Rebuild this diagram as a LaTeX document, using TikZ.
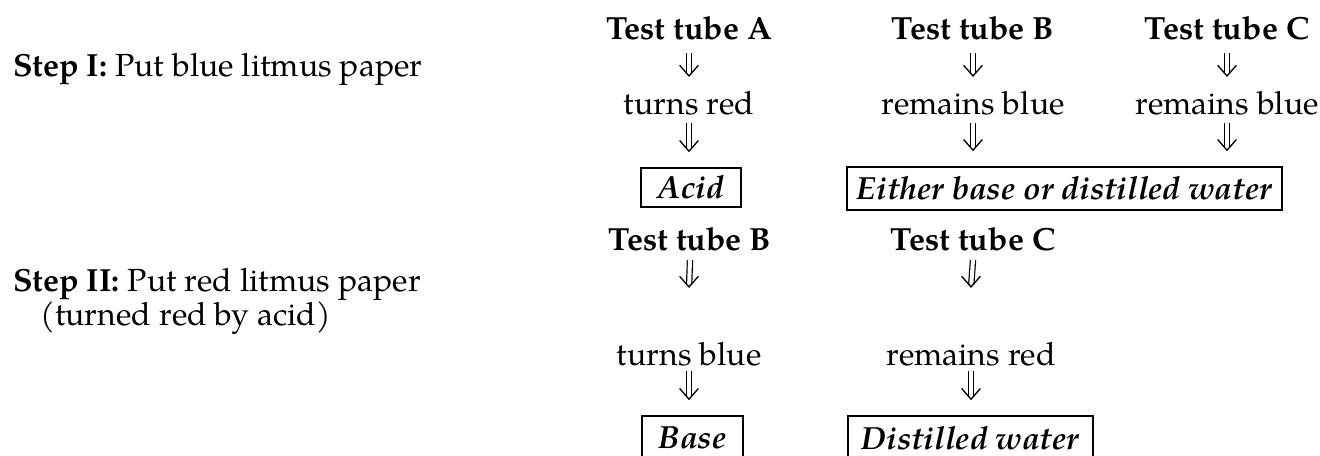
\documentclass[tikz,border=0pt]{standalone}
\usepackage{fontspec}
\setmainfont{TeX Gyre Pagella}
\usetikzlibrary{arrows.meta,calc}
\newcommand\darr[2]{\draw[dshaft] #1 -- #2; \draw[dhead] #2 ++(0,-2) -- #2;}
\begin{document}
\begin{tikzpicture}[x=0.375pt,y=-0.375pt,
  every node/.style={font=\fontsize{12}{14}\selectfont, inner sep=0pt},
  lbl/.style={anchor=base},
  hd/.style={anchor=base, font=\fontsize{12}{14}\selectfont\bfseries},
  res/.style={draw, line width=0.6pt, font=\fontsize{12}{14}\selectfont\bfseries\itshape, inner sep=0pt},
  dshaft/.style={double, double distance=1.5pt, line width=0.45pt, shorten >=1.4pt},
  dhead/.style={line width=0.45pt, -{Straight Barb[length=4pt, width=7pt, line width=0.5pt]}},
]
\useasboundingbox (0,0) rectangle (1320,456);

% step labels
\node[anchor=base west] (s1) at (13,77) {\textbf{Step I:} Put blue litmus paper};
\node[anchor=base west] (s2) at (13,291) {\textbf{Step II:} Put red litmus paper};
\node[anchor=base west] (s2b) at (40,325) {(turned red by acid)};

% row 1
\node[hd] (tA) at (689,40) {Test tube A};
\node[hd] (tB) at (973,40) {Test tube B};
\node[hd] (tC) at (1227,40) {Test tube C};
\node[lbl] (rA) at (689,115) {turns red};
\node[lbl] (rB) at (973,115) {remains blue};
\node[lbl] (rC) at (1227,115) {remains blue};
\node[res, minimum width=37.5pt, minimum height=14.6pt] (acid) at (691,187.5) {Acid};
\node[res, minimum width=163.1pt, minimum height=16.1pt] (either) at (1064.5,188.5) {Either base or distilled water};

\darr{($(tA.base)+(0,13)$)}{($(rA.base)+(0,-38)$)}
\darr{($(tB.base)+(0,13)$)}{($(rB.base)+(0,-38)$)}
\darr{($(tC.base)+(0,13)$)}{($(rC.base)+(0,-38)$)}
\darr{($(rA.base)+(0,8)$)}{($(rA.base |- acid.north)+(0,-15)$)}
\darr{($(rB.base)+(0,8)$)}{($(rB.base |- either.north)+(0,-15)$)}
\darr{($(rC.base)+(0,8)$)}{($(rC.base |- either.north)+(0,-15)$)}

% row 2
\node[hd] (tB2) at (690,250) {Test tube B};
\node[hd] (tC2) at (973,250) {Test tube C};
\node[lbl] (rB2) at (689,365) {turns blue};
\node[lbl] (rC2) at (971,365) {remains red};
\node[res, minimum width=37.9pt, minimum height=16.5pt] (base) at (692.5,438) {Base};
\node[res, minimum width=91.9pt, minimum height=16.5pt] (dw) at (970.5,438) {Distilled water};

\darr{($(tB2.base)+(0,10)$)}{($(rB2.base)+(0,-77)$)}
\darr{($(tC2.base)+(0,10)$)}{($(rC2.base)+(0,-77)$)}
\darr{($(rB2.base)+(0,6)$)}{($(rB2.base |- base.north)+(0,-15)$)}
\darr{($(rC2.base)+(0,6)$)}{($(rC2.base |- dw.north)+(0,-15)$)}
\end{tikzpicture}
\end{document}
